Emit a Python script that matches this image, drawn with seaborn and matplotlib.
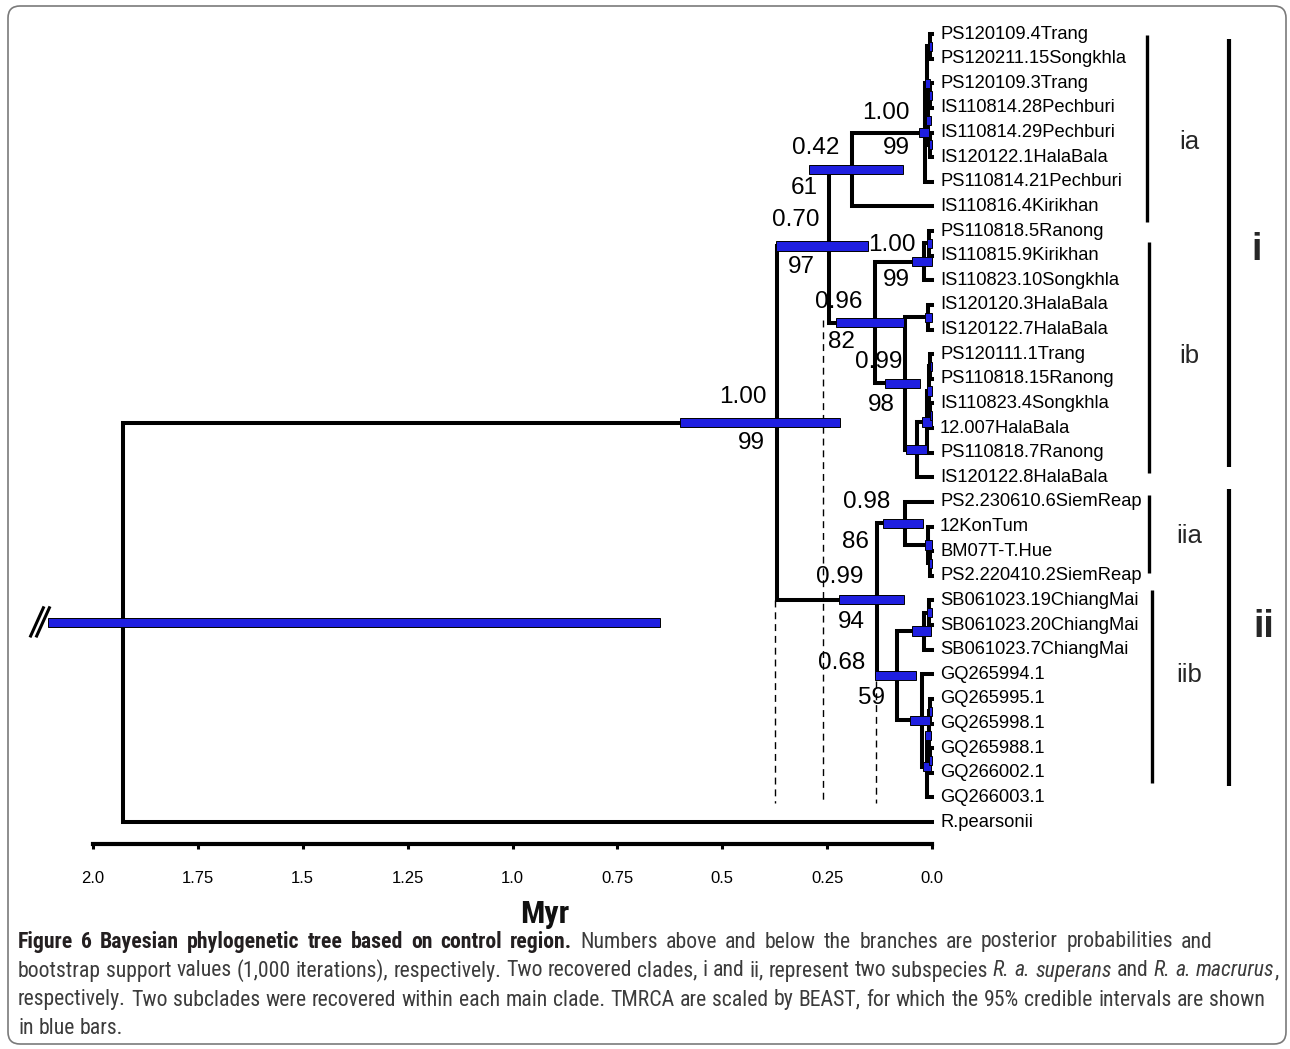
import numpy as np
import pandas as pd
import matplotlib
matplotlib.use("Agg")
import matplotlib.pyplot as plt
from matplotlib import font_manager
from matplotlib.patches import FancyBboxPatch
from matplotlib.transforms import IdentityTransform
import seaborn as sns

# ---------------------------------------------------------------- data
tip_labels = [
    "PS120109.4Trang", "PS120211.15Songkhla", "PS120109.3Trang", "IS110814.28Pechburi",
    "IS110814.29Pechburi", "IS120122.1HalaBala", "PS110814.21Pechburi", "IS110816.4Kirikhan",
    "PS110818.5Ranong", "IS110815.9Kirikhan", "IS110823.10Songkhla", "IS120120.3HalaBala",
    "IS120122.7HalaBala", "PS120111.1Trang", "PS110818.15Ranong", "IS110823.4Songkhla",
    "12.007HalaBala", "PS110818.7Ranong", "IS120122.8HalaBala", "PS2.230610.6SiemReap",
    "12KonTum", "BM07T-T.Hue", "PS2.220410.2SiemReap", "SB061023.19ChiangMai",
    "SB061023.20ChiangMai", "SB061023.7ChiangMai", "GQ265994.1", "GQ265995.1",
    "GQ265998.1", "GQ265988.1", "GQ266002.1", "GQ266003.1", "R.pearsonii",
]

node_names = [
    "root", "ingroup", "clade_i", "ia", "ia1", "a_sub", "a12", "a3456", "a34", "a56",
    "ib", "ib1", "b910", "ib2", "b1213", "ib3", "ib4", "b14_17", "b1415", "b1617",
    "clade_ii", "iia", "c_sub", "c2223", "iib", "chiang", "c2425", "gq", "gq_sub",
    "gq_a", "gq2829", "gq3031",
]
node_children = [
    ("ingroup", "R.pearsonii"), ("clade_i", "clade_ii"), ("ia", "ib"),
    ("ia1", "IS110816.4Kirikhan"), ("a_sub", "PS110814.21Pechburi"), ("a12", "a3456"),
    ("PS120109.4Trang", "PS120211.15Songkhla"), ("a34", "a56"),
    ("PS120109.3Trang", "IS110814.28Pechburi"), ("IS110814.29Pechburi", "IS120122.1HalaBala"),
    ("ib1", "ib2"), ("b910", "IS110823.10Songkhla"), ("PS110818.5Ranong", "IS110815.9Kirikhan"),
    ("b1213", "ib3"), ("IS120120.3HalaBala", "IS120122.7HalaBala"), ("ib4", "IS120122.8HalaBala"),
    ("b14_17", "PS110818.7Ranong"), ("b1415", "b1617"),
    ("PS120111.1Trang", "PS110818.15Ranong"), ("IS110823.4Songkhla", "12.007HalaBala"),
    ("iia", "iib"), ("PS2.230610.6SiemReap", "c_sub"), ("12KonTum", "c2223"),
    ("BM07T-T.Hue", "PS2.220410.2SiemReap"), ("chiang", "gq"), ("c2425", "SB061023.7ChiangMai"),
    ("SB061023.19ChiangMai", "SB061023.20ChiangMai"), ("GQ265994.1", "gq_sub"),
    ("gq_a", "GQ266003.1"), ("gq2829", "gq3031"), ("GQ265995.1", "GQ265998.1"),
    ("GQ265988.1", "GQ266002.1"),
]
node_ages = [1.928, 0.369, 0.245, 0.191, 0.017, 0.012, 0.005, 0.0095, 0.005, 0.005,
             0.136, 0.019, 0.007, 0.064, 0.0095, 0.036, 0.012, 0.007, 0.004, 0.004,
             0.131, 0.064, 0.0095, 0.004, 0.083, 0.019, 0.007, 0.024, 0.012,
             0.007, 0.004, 0.004]
hpd_low = [0.648, 0.220, 0.153, 0.069, 0.007, 0.005, 0.000, 0.002, 0.000, 0.000,
           0.067, 0.000, 0.000, 0.029, 0.000, 0.012, 0.000, 0.000, 0.000, 0.000,
           0.067, 0.021, 0.000, 0.000, 0.038, 0.002, 0.000, 0.005, 0.002,
           0.002, 0.000, 0.000]
hpd_high = [2.107, 0.601, 0.372, 0.293, 0.031, 0.017, 0.007, 0.014, 0.007, 0.007,
            0.229, 0.048, 0.012, 0.112, 0.017, 0.062, 0.024, 0.012, 0.005, 0.005,
            0.222, 0.117, 0.017, 0.006, 0.136, 0.048, 0.012, 0.052, 0.021,
            0.017, 0.007, 0.007]
posterior = {"ingroup": "1.00", "clade_i": "0.70", "ia": "0.42", "ia1": "1.00", "ib": "0.96",
             "ib1": "1.00", "ib2": "0.99", "clade_ii": "0.99", "iia": "0.98", "iib": "0.68"}
bootstrap = {"ingroup": "99", "clade_i": "97", "ia": "61", "ia1": "99", "ib": "82",
             "ib1": "99", "ib2": "98", "clade_ii": "94", "iia": "86", "iib": "59"}
dashed_ages = [0.374, 0.260, 0.1335]
axis_ticks = [2.0, 1.75, 1.5, 1.25, 1.0, 0.75, 0.5, 0.25, 0.0]
axis_ticklabels = ["2.0", "1.75", "1.5", "1.25", "1.0", "0.75", "0.5", "0.25", "0.0"]
clade_names = ["ia", "ib", "iia", "iib"]
main_clade_names = ["i", "ii"]

caption_lines = [
    [("Figure 6 Bayesian phylogenetic tree based on control region.", "bold", "normal"),
     (" Numbers above and below the branches are posterior probabilities and", "normal", "normal")],
    [("bootstrap support values (1,000 iterations), respectively. Two recovered clades, i and ii, "
      "represent two subspecies ", "normal", "normal"),
     ("R. a. superans", "normal", "italic"), (" and ", "normal", "normal"),
     ("R. a. macrurus", "normal", "italic"), (",", "normal", "normal")],
    [("respectively. Two subclades were recovered within each main clade. TMRCA are scaled by "
      "BEAST, for which the 95% credible intervals are shown", "normal", "normal")],
    [("in blue bars.", "normal", "normal")],
]

# ---------------------------------------------------------------- layout (pixels)
W, H = 1290, 1049
X0_PX, PX_PER_MYR = 932.0, 419.5
Y0_PX, PX_PER_ROW = 34.0, 24.625


def age_px(px):
    return (X0_PX - px) / PX_PER_MYR


def row_px(py):
    return (py - Y0_PX) / PX_PER_ROW


support_pos = {  # (x, y) centres of posterior / bootstrap labels
    "ingroup": ((743, 397), (751, 443)), "clade_i": ((796, 220), (801, 267)),
    "ia": ((816, 148), (804, 188)), "ia1": ((886, 113), (896, 148)),
    "ib": ((839, 302), (841, 342)), "ib1": ((892, 245), (896, 280)),
    "ib2": ((879, 362), (881, 405)), "clade_ii": ((840, 577), (851, 622)),
    "iia": ((867, 502), (855, 542)), "iib": ((842, 663), (871, 698)),
}
dashed_top_px = [600, 320, 681]
dashed_bottom_px = 803
clade_bar_px = [(1147, 35, 222), (1149, 242, 473), (1149, 495, 573), (1152, 590, 783)]
clade_label_px = [(1189, 142), (1189, 356), (1189, 536), (1189, 675)]
main_bar_px = [(1229, 39, 467), (1229, 489, 786)]
main_label_px = [(1257, 250), (1264, 627)]
caption_x0 = 18
caption_y = [942, 971, 1000, 1029]
caption_right = [1255, 1276, 1265, None]
max_extra_space = 3.0

# ---------------------------------------------------------------- style
sns.set_theme(style="white")
plt.rcParams["font.family"] = ["Liberation Sans", "DejaVu Sans"]
avail = {f.name for f in font_manager.fontManager.ttflist}
cap_family = next((f for f in ["Liberation Sans Narrow", "Roboto Condensed", "Open Sans Condensed",
                               "Open Sans"] if f in avail), "DejaVu Sans")

BLUE = "#1f1fe0"

fig = plt.figure(figsize=(W / 100, H / 100), dpi=100)
fig.patch.set_facecolor("white")
ax = fig.add_axes([0, 0, 1, 1])
ax.patch.set_visible(False)

# ---------------------------------------------------------------- tree geometry
idx = {n: i for i, n in enumerate(node_names)}
tip_row = {t: i for i, t in enumerate(tip_labels)}


def row_of(n):
    if n in tip_row:
        return float(tip_row[n])
    a, b = node_children[idx[n]]
    return (row_of(a) + row_of(b)) / 2.0


def age_of(n):
    return 0.0 if n in tip_row else node_ages[idx[n]]


records = []
for n in node_names:
    a, b = node_children[idx[n]]
    ya, yb, t = row_of(a), row_of(b), age_of(n)
    for k, (xx, yy) in enumerate([(age_of(a), ya), (t, ya), (t, yb), (age_of(b), yb)]):
        records.append({"node": n, "order": k, "age": xx, "row": yy})
seg = pd.DataFrame(records)

sns.lineplot(data=seg, x="age", y="row", units="node", estimator=None, sort=False,
             color="black", linewidth=2.9, ax=ax, legend=False,
             solid_joinstyle="miter", solid_capstyle="projecting")

# dashed reference lines
for a, top in zip(dashed_ages, dashed_top_px):
    ax.plot([a, a], [row_px(top), row_px(dashed_bottom_px)], color="black",
            linewidth=1.0, dashes=(5, 3.5))

# HPD bars
node_rows = [row_of(n) for n in node_names]
ax.barh(node_rows, np.array(hpd_high) - np.array(hpd_low), left=hpd_low, height=0.38,
        color=BLUE, edgecolor="black", linewidth=0.7, zorder=3)

# break marks on the root bar
ry = row_of("root")
for dx in (0, 6):
    ax.plot([age_px(30 + dx), age_px(44 + dx)], [ry + 15 / PX_PER_ROW, ry - 16 / PX_PER_ROW],
            color="black", linewidth=2.2, zorder=4, solid_capstyle="butt")

# support values
for n, ((px1, py1), (px2, py2)) in support_pos.items():
    ax.text(age_px(px1), row_px(py1), posterior[n], ha="center", va="center", fontsize=17.5,
            color="black", zorder=5)
    ax.text(age_px(px2), row_px(py2), bootstrap[n], ha="center", va="center", fontsize=17.5,
            color="black", zorder=5)

# tip labels
for t, r in tip_row.items():
    ax.text(age_px(940), r, t, ha="left", va="center", fontsize=13.2, color="black")

# clade bars and labels
for (bx, y1, y2), (lx, ly), name in zip(clade_bar_px, clade_label_px, clade_names):
    ax.plot([age_px(bx)] * 2, [row_px(y1), row_px(y2)], color="black", linewidth=2.4,
            solid_capstyle="butt")
    ax.text(age_px(lx), row_px(ly), name, ha="center", va="center", fontsize=18.5)
for (bx, y1, y2), (lx, ly), name in zip(main_bar_px, main_label_px, main_clade_names):
    ax.plot([age_px(bx)] * 2, [row_px(y1), row_px(y2)], color="black", linewidth=3.0,
            solid_capstyle="butt")
    ax.text(age_px(lx), row_px(ly), name, ha="center", va="center", fontsize=27,
            fontweight="bold")

ax.set_xlim(age_px(0), age_px(W))
ax.set_ylim(row_px(H), row_px(0))
ax.set_axis_off()

# ---------------------------------------------------------------- time axis
ax2 = fig.add_axes([0, 1 - 844 / H, 1, 0.0005])
ax2.patch.set_visible(False)
ax2.set_xlim(age_px(0), age_px(W))
ax2.set_ylim(0, 1)
sns.despine(ax=ax2, left=True, top=True, right=True, bottom=False)
ax2.spines["bottom"].set_bounds(0, 2)
ax2.spines["bottom"].set_linewidth(3.0)
ax2.spines["bottom"].set_color("black")
ax2.spines["bottom"].set_capstyle("projecting")
ax2.set_xticks(axis_ticks)
ax2.set_xticklabels(axis_ticklabels)
ax2.set_xticks(np.arange(0, 2.0001, 0.05), minor=True)
ax2.set_yticks([])
ax2.tick_params(axis="x", which="major", bottom=True, direction="out", length=3.5, width=2.2,
                pad=16, labelsize=12, colors="black")
ax2.tick_params(axis="x", which="minor", bottom=True, direction="out", length=1.6, width=1.3,
                colors="black")


def fx(px):
    return px / W


def fy(py):
    return 1 - py / H


fig.text(fx(545), fy(914), "Myr", ha="center", va="center", fontsize=23, fontweight="bold",
         family=[cap_family, "DejaVu Sans"], color="#111111")

# ---------------------------------------------------------------- caption
renderer = fig.canvas.get_renderer()


def seg_width(s, size, weight, style):
    kw = dict(fontsize=size, fontweight=weight, fontstyle=style, family=[cap_family, "DejaVu Sans"])
    t1 = fig.text(0, 0, "|" + s + "|", **kw)
    t2 = fig.text(0, 0, "||", **kw)
    w = t1.get_window_extent(renderer).width - t2.get_window_extent(renderer).width
    t1.remove()
    t2.remove()
    return w


def line_width(line, size):
    return sum(seg_width(s, size, wt, st) for s, wt, st in line)


cap_size = 10 * (caption_right[1] - caption_x0) / line_width(caption_lines[1], 10)


def words(line):
    out = []
    for s, wt, st in line:
        parts = s.split(" ")
        for j, p in enumerate(parts):
            if p:
                out.append([p, wt, st, False])
            if j < len(parts) - 1:
                out.append([" ", wt, st, True])
    return out


for line, py, right in zip(caption_lines, caption_y, caption_right):
    items = words(line)
    widths = [seg_width(p, cap_size, wt, st) for p, wt, st, _ in items]
    n_space = sum(1 for it in items if it[3])
    extra = 0.0
    if right is not None and n_space:
        extra = min(max_extra_space, max(0.0, (right - caption_x0 - sum(widths)) / n_space))
    x = float(caption_x0)
    for (p, wt, st, is_space), w in zip(items, widths):
        if is_space:
            x += w + extra
            continue
        col = "#231f20" if wt == "bold" else "#3c3c3c"
        fig.text(fx(x), fy(py), p, ha="left", va="center", fontsize=cap_size,
                 fontweight=wt, fontstyle=st, family=[cap_family, "DejaVu Sans"], color=col)
        x += w

# ---------------------------------------------------------------- frame
frame = FancyBboxPatch((8, H - 1044), 1286 - 8, 1044 - 6, boxstyle="round,pad=0,rounding_size=12",
                       transform=IdentityTransform(), facecolor="none", edgecolor="#7a7a7a",
                       linewidth=1.2)
fig.patches.append(frame)

fig.savefig("out.png", dpi=100, facecolor="white")
